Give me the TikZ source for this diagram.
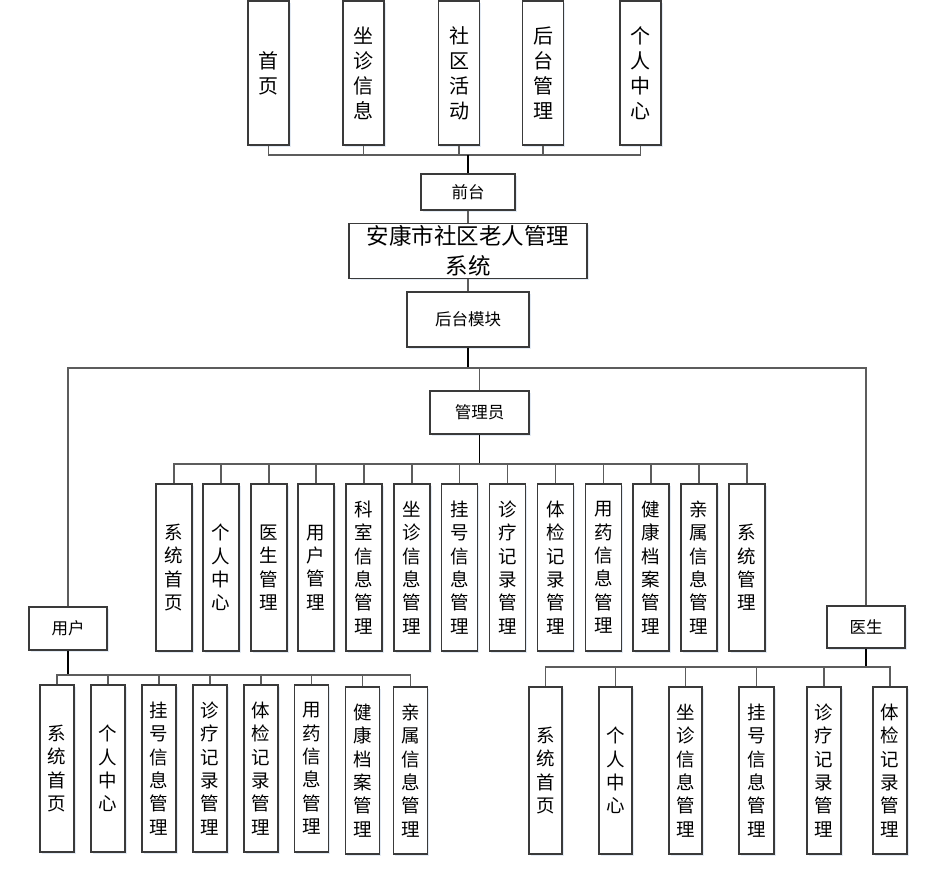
\documentclass[tikz,border=0pt]{standalone}
\usepackage{fontspec}
\usetikzlibrary{shadows}
\newfontfamily\cjk{Noto Sans CJK SC}
\definecolor{Edge}{HTML}{3A3A3A}
\definecolor{Wire}{HTML}{5C5C5C}
\definecolor{Shade}{HTML}{DCE6F2}

\begin{document}
\begin{tikzpicture}[x=1pt,y=-1pt,
  box/.style={draw=Edge,line width=1.3pt,fill=white,inner sep=0pt,align=center,
    drop shadow={shadow xshift=1.6pt,shadow yshift=-1.6pt,fill=Shade,opacity=0.8}},
  topcol/.style={box,minimum width=41pt,minimum height=144pt,font=\cjk\fontsize{20}{25}\selectfont},
  admcol/.style={box,minimum width=36pt,minimum height=167pt,font=\cjk\fontsize{18.5}{23.4}\selectfont},
  subcol/.style={box,minimum width=34pt,minimum height=167pt,font=\cjk\fontsize{18.5}{23.4}\selectfont},
  tag/.style={box,font=\cjk\fontsize{16.5}{20}\selectfont},
  wire/.style={draw=Wire,line width=1.2pt},
  trunk/.style={draw=black,line width=1.6pt}]
\useasboundingbox (0,0) rectangle (940,868);
% front end
\node[topcol] (shouye) at (268.5,73) {首\\页};
\node[topcol] (zuozhen) at (363.5,73) {坐\\诊\\信\\息};
\node[topcol] (shequ) at (459,73) {社\\区\\活\\动};
\node[topcol] (houguan) at (543,73) {后\\台\\管\\理};
\node[topcol] (geren) at (640.5,73) {个\\人\\中\\心};
\node[tag,minimum width=94pt,minimum height=36pt] (qiantai) at (468,192) {前台};
\node[box,minimum width=238pt,minimum height=55pt,font=\cjk\fontsize{22.5}{30.5}\selectfont] (xitong) at (468,251) {安康市社区老人管理\\系统};
\node[tag,minimum width=122pt,minimum height=55pt] (houtai) at (468,319.5) {后台模块};
\coordinate (topbus) at (468,155);
\draw[wire] (shouye.south) |- (topbus);
\draw[wire] (zuozhen.south) |- (topbus);
\draw[wire] (shequ.south) |- (topbus);
\draw[wire] (houguan.south) |- (topbus);
\draw[wire] (geren.south) |- (topbus);
\draw[trunk] (topbus) -- (qiantai.north);
\draw[wire] (qiantai.south) -- (xitong.north);
\draw[wire] (xitong.south) -- (houtai.north);
% back end
\node[tag,minimum width=99pt,minimum height=43pt] (guanli) at (479.5,412.5) {管理员};
\node[tag,minimum width=78pt,minimum height=43pt] (yonghu) at (68,628.5) {用户};
\node[tag,minimum width=78pt,minimum height=42pt] (yisheng) at (866,627) {医生};
\coordinate (midbus) at (468,368);
\draw[trunk] (houtai.south) -- (midbus);
\draw[wire] (midbus) -| (guanli.north);
\draw[wire] (midbus) -| (yonghu.north);
\draw[wire] (midbus) -| (yisheng.north);
% admin
\node[admcol] (a1) at (174,567.5) {系\\统\\首\\页};
\node[admcol] (a2) at (221,567.5) {个\\人\\中\\心};
\node[admcol] (a3) at (269,567.5) {医\\生\\管\\理};
\node[admcol] (a4) at (316,567.5) {用\\户\\管\\理};
\node[admcol] (a5) at (364,567.5) {科\\室\\信\\息\\管\\理};
\node[admcol] (a6) at (412,567.5) {坐\\诊\\信\\息\\管\\理};
\node[admcol] (a7) at (459.5,567.5) {挂\\号\\信\\息\\管\\理};
\node[admcol] (a8) at (507.5,567.5) {诊\\疗\\记\\录\\管\\理};
\node[admcol] (a9) at (555.5,567.5) {体\\检\\记\\录\\管\\理};
\node[admcol] (a10) at (603.5,567.5) {用\\药\\信\\息\\管\\理};
\node[admcol] (a11) at (651,567.5) {健\\康\\档\\案\\管\\理};
\node[admcol] (a12) at (699,567.5) {亲\\属\\信\\息\\管\\理};
\node[admcol] (a13) at (747,567.5) {系\\统\\管\\理};
\coordinate (admbus) at (479.5,464);
\draw[trunk] (guanli.south) -- (admbus);
\draw[wire] (admbus) -| (a1.north);
\draw[wire] (admbus) -| (a2.north);
\draw[wire] (admbus) -| (a3.north);
\draw[wire] (admbus) -| (a4.north);
\draw[wire] (admbus) -| (a5.north);
\draw[wire] (admbus) -| (a6.north);
\draw[wire] (admbus) -| (a7.north);
\draw[wire] (admbus) -| (a8.north);
\draw[wire] (admbus) -| (a9.north);
\draw[wire] (admbus) -| (a10.north);
\draw[wire] (admbus) -| (a11.north);
\draw[wire] (admbus) -| (a12.north);
\draw[wire] (admbus) -| (a13.north);
% user
\node[subcol] (u1) at (57,768.5) {系\\统\\首\\页};
\node[subcol] (u2) at (108,768.5) {个\\人\\中\\心};
\node[subcol] (u3) at (159,768.5) {挂\\号\\信\\息\\管\\理};
\node[subcol] (u4) at (210,768.5) {诊\\疗\\记\\录\\管\\理};
\node[subcol] (u5) at (261,768.5) {体\\检\\记\\录\\管\\理};
\node[subcol] (u6) at (311.5,768.5) {用\\药\\信\\息\\管\\理};
\node[subcol] (u7) at (362.5,770.5) {健\\康\\档\\案\\管\\理};
\node[subcol] (u8) at (410.5,770.5) {亲\\属\\信\\息\\管\\理};
\coordinate (usrbus) at (68,675);
\draw[trunk] (yonghu.south) -- (usrbus);
\draw[wire] (usrbus) -| (u1.north);
\draw[wire] (usrbus) -| (u2.north);
\draw[wire] (usrbus) -| (u3.north);
\draw[wire] (usrbus) -| (u4.north);
\draw[wire] (usrbus) -| (u5.north);
\draw[wire] (usrbus) -| (u6.north);
\draw[wire] (usrbus) -| (u7.north);
\draw[wire] (usrbus) -| (u8.north);
% doctor
\node[subcol,minimum width=33pt] (d1) at (545.5,770.5) {系\\统\\首\\页};
\node[subcol,minimum width=33pt] (d2) at (615.5,770.5) {个\\人\\中\\心};
\node[subcol,minimum width=33pt] (d3) at (685.5,770.5) {坐\\诊\\信\\息\\管\\理};
\node[subcol,minimum width=35pt] (d4) at (756.5,770.5) {挂\\号\\信\\息\\管\\理};
\node[subcol] (d5) at (824,770.5) {诊\\疗\\记\\录\\管\\理};
\node[subcol] (d6) at (890,770.5) {体\\检\\记\\录\\管\\理};
\coordinate (docbus) at (866,667);
\draw[trunk] (yisheng.south) -- (docbus);
\draw[wire] (docbus) -| (d1.north);
\draw[wire] (docbus) -| (d2.north);
\draw[wire] (docbus) -| (d3.north);
\draw[wire] (docbus) -| (d4.north);
\draw[wire] (docbus) -| (d5.north);
\draw[wire] (docbus) -| (d6.north);
\end{tikzpicture}
\end{document}
